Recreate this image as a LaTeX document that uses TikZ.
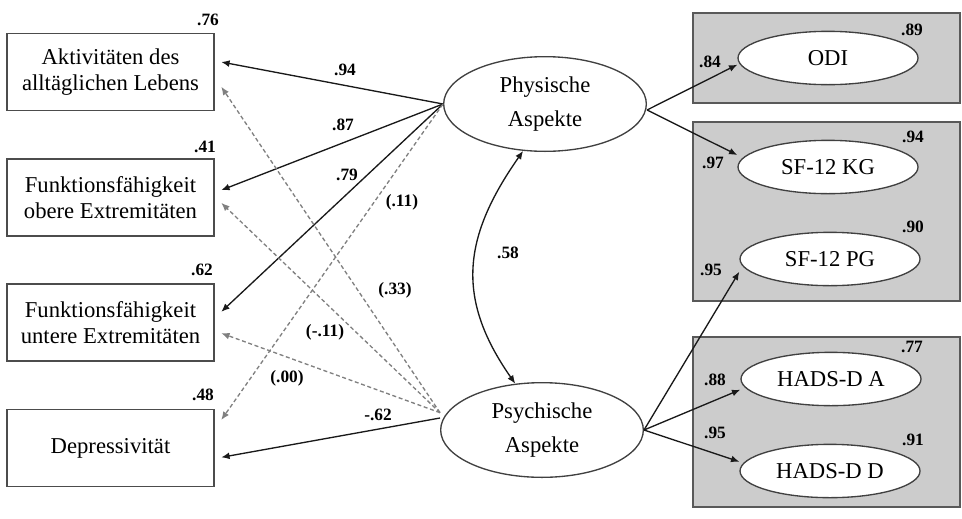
\documentclass[tikz,border=0pt]{standalone}
\usepackage{fontspec}
\setmainfont{Liberation Serif}
\usetikzlibrary{positioning,arrows.meta,shapes.geometric}

\begin{document}
\begin{tikzpicture}[x=0.75pt, y=-0.75pt, >={Latex[length=2.2mm,width=1.8mm]},
    every node/.style={font=\fontsize{17}{20}\selectfont},
    obsbox/.style={draw=black!70, line width=1.1pt, minimum width=155pt, minimum height=58pt, align=center, inner sep=2pt},
    latent/.style={draw=black!75, line width=1pt, ellipse, minimum width=152pt, minimum height=71pt, align=center, inner sep=0pt},
    indic/.style={draw=black!75, line width=1pt, ellipse, fill=white, minimum width=135pt, minimum height=40pt, inner sep=0pt},
    grpbox/.style={draw=black!65, line width=1pt, fill=black!20},
    coef/.style={font=\fontsize{13}{15}\selectfont\bfseries, inner sep=1pt},
    load/.style={->, line width=1pt, black!90},
    nsload/.style={->, line width=1pt, black!50, dash pattern=on 3pt off 2pt}]
    \useasboundingbox (0,0) rectangle (962,518);

    \draw[grpbox] (693,13) rectangle (960,103);
    \draw[grpbox] (693,122) rectangle (960,301);
    \draw[grpbox] (693,337) rectangle (960,507);

    \node[obsbox] (adl) at (110.5,72) {Aktivitäten des\\alltäglichen Lebens};
    \node[obsbox] (obere) at (110.5,197.5) {Funktionsfähigkeit\\obere Extremitäten};
    \node[obsbox] (untere) at (110.5,322.5) {Funktionsfähigkeit\\untere Extremitäten};
    \node[obsbox] (depr) at (110.5,448) {Depressivität};

    \node[latent] (phys) at (545,104) {Physische\\[6pt]Aspekte};
    \node[latent] (psych) at (542,430) {Psychische\\[6pt]Aspekte};

    \node[indic] (odi) at (828,58) {ODI};
    \node[indic] (sfkg) at (828,167) {SF-12 KG};
    \node[indic] (sfpg) at (830,259) {SF-12 PG};
    \node[indic] (hadsa) at (831,379) {HADS-D A};
    \node[indic] (hadsd) at (830,471) {HADS-D D};

    \draw[load] (phys.west) -- ([xshift=5pt,yshift=7.5pt]adl.east);
    \draw[load] (phys.west) -- ([xshift=5pt,yshift=5.5pt]obere.east);
    \draw[load] (phys.west) -- ([xshift=5pt,yshift=8pt]untere.east);
    \draw[nsload] (phys.west) -- ([xshift=5pt,yshift=21pt]depr.east);
    \draw[nsload] ([yshift=13pt]psych.west) -- ([xshift=5pt,yshift=-11pt]adl.east);
    \draw[nsload] ([yshift=13pt]psych.west) -- ([xshift=5pt,yshift=-4pt]obere.east);
    \draw[nsload] ([yshift=13pt]psych.west) -- ([xshift=5pt,yshift=-8pt]untere.east);
    \draw[load] ([yshift=9pt]psych.west) -- ([xshift=5pt,yshift=-7pt]depr.east);

    \draw[<->, line width=1pt, black!90] (phys.-115) to[out=-125, in=125, looseness=1.15] (psych.120);

    \draw[load] ([yshift=-4.5pt]phys.east) -- ([yshift=-5pt]odi.west);
    \draw[load] ([yshift=-4.5pt]phys.east) -- ([yshift=9pt]sfkg.west);
    \draw[load] (psych.east) -- ([yshift=-9.5pt]sfpg.west);
    \draw[load] (psych.east) -- ([yshift=-8pt]hadsa.west);
    \draw[load] (psych.east) -- ([yshift=7pt]hadsd.west);

    \node[coef] (r2adl) at (208,20) {.76};
    \node[coef] (r2obere) at (205,147) {.41};
    \node[coef] (r2untere) at (202,270) {.62};
    \node[coef] (r2depr) at (203,395) {.48};
    \node[coef] (cadl) at (345,70) {.94};
    \node[coef] (cobere) at (343,125) {.87};
    \node[coef] (cuntere) at (347,175) {.79};
    \node[coef] (cdepr) at (402,202) {(.11)};
    \node[coef] (kadl) at (395,290) {(.33)};
    \node[coef] (kobere) at (325,332) {(-.11)};
    \node[coef] (kuntere) at (287,378) {(.00)};
    \node[coef] (kdepr) at (378,415) {-.62};
    \node[coef] (korr) at (508,253) {.58};
    \node[coef] (codi) at (710,62) {.84};
    \node[coef] (csfkg) at (713,163) {.97};
    \node[coef] (csfpg) at (711,270) {.95};
    \node[coef] (chadsa) at (715,380) {.88};
    \node[coef] (chadsd) at (715,433) {.95};
    \node[coef] (r2odi) at (912,30) {.89};
    \node[coef] (r2sfkg) at (913,137) {.94};
    \node[coef] (r2sfpg) at (913,227) {.90};
    \node[coef] (r2hadsa) at (912,347) {.77};
    \node[coef] (r2hadsd) at (913,440) {.91};
\end{tikzpicture}
\end{document}
